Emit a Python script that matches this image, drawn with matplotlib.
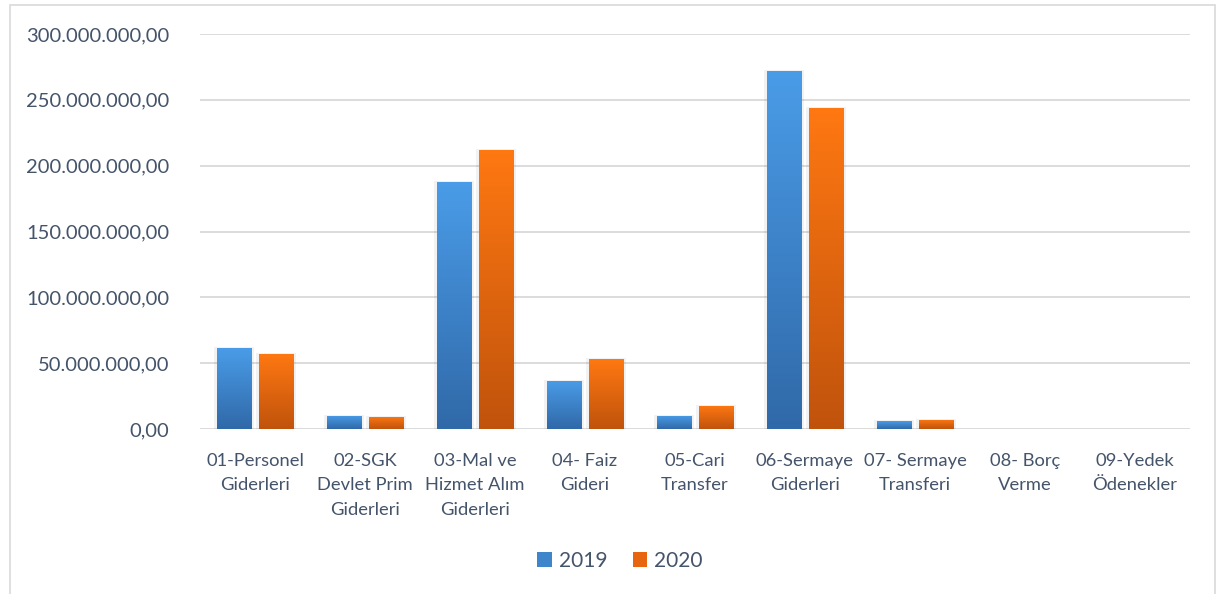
import matplotlib
matplotlib.use("Agg")
import matplotlib.pyplot as plt
import numpy as np
from matplotlib.patches import Rectangle
from matplotlib.colors import LinearSegmentedColormap

categories = ["01-Personel\nGiderleri", "02-SGK\nDevlet Prim\nGiderleri", "03-Mal ve\nHizmet Alım\nGiderleri",
              "04- Faiz\nGideri", "05-Cari\nTransfer", "06-Sermaye\nGiderleri", "07- Sermaye\nTransferi",
              "08- Borç\nVerme", "09-Yedek\nÖdenekler"]
values_2019 = [61.5e6, 10.0e6, 187.5e6, 36.5e6, 10.0e6, 272.0e6, 6.0e6, 0, 0]
values_2020 = [57.0e6, 9.2e6, 212.0e6, 53.0e6, 17.5e6, 244.0e6, 7.0e6, 0, 0]
series_names = ["2019", "2020"]
yticks = [0, 50e6, 100e6, 150e6, 200e6, 250e6, 300e6]

plt.rcParams['font.family'] = ['Lato', 'DejaVu Sans']
txt = '#44546A'

fig = plt.figure(figsize=(12.24, 5.94), dpi=100)
ax = fig.add_axes([200/1224, 1-429/594, 990/1224, 395/594])

# outer frame
fig.patches.append(Rectangle((10/1224, -0.01), 1205/1224, 1-5/594+0.01, transform=fig.transFigure,
                             fill=False, edgecolor='#D9D9D9', linewidth=1.2))

cmaps = [LinearSegmentedColormap.from_list('b', ['#3069A8', '#4A9CE8']),
         LinearSegmentedColormap.from_list('o', ['#C0530C', '#FF7812'])]
grad = np.linspace(0, 1, 256).reshape(-1, 1)
x = np.arange(len(categories))
w = 0.318
off = 0.191
for si, vals in enumerate([values_2019, values_2020]):
    xs = x + (-off if si == 0 else off)
    for xi, v in zip(xs, vals):
        if v <= 0:
            continue
        sh = Rectangle((xi - w/2 - 0.025, 0), w + 0.05, v + 0.8e6, facecolor='#000000', alpha=0.05,
                       edgecolor='none', zorder=2)
        ax.add_patch(sh)
        rect = Rectangle((xi - w/2, 0), w, v, facecolor='none', edgecolor='none', zorder=3)
        ax.add_patch(rect)
        im = ax.imshow(grad, cmap=cmaps[si], aspect='auto', origin='lower',
                       extent=[xi - w/2, xi + w/2, 0, v], zorder=3)
        im.set_clip_path(rect)

ax.set_xlim(-0.5, len(categories) - 0.5)
ax.set_ylim(0, 300e6)
ax.set_yticks(yticks)
ax.set_yticklabels([f"{t:,.2f}".replace(',', 'X').replace('.', ',').replace('X', '.') for t in yticks])
ax.set_xticks(x)
ax.set_xticklabels(categories, linespacing=1.68)
ax.tick_params(axis='both', length=0, colors=txt)
ax.tick_params(axis='y', pad=22, labelsize=14.5)
ax.tick_params(axis='x', pad=17, labelsize=13.2)
for sp in ax.spines.values():
    sp.set_visible(False)
ax.grid(axis='y', color='#D9D9D9', linewidth=1.3, zorder=0)
ax.set_axisbelow(True)

handles = [Rectangle((0, 0), 1, 1, facecolor=c) for c in ['#3E85CB', '#E8650F']]
fig.legend(handles, series_names, loc='center', bbox_to_anchor=(620/1224, 1-561/594), ncol=2,
           frameon=False, fontsize=15, labelcolor=txt, handlelength=0.7, handleheight=0.7,
           handletextpad=0.35, columnspacing=1.2)

fig.savefig('out.png', dpi=100)
